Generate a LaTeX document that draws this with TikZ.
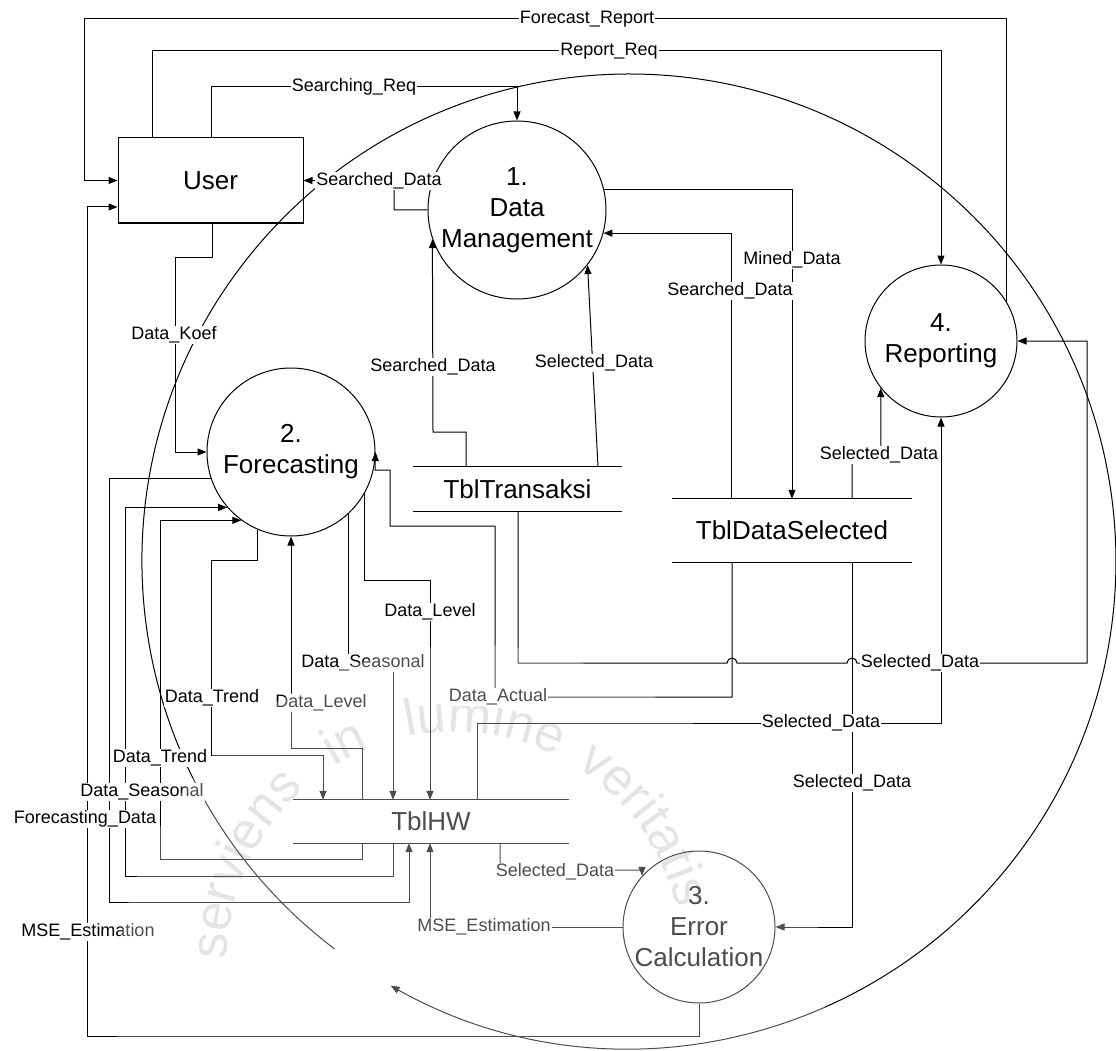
\documentclass[tikz,border=0pt]{standalone}
\usepackage{fontspec}
\setmainfont{Liberation Sans}
\usetikzlibrary{arrows.meta,decorations.text,calc}
\newcommand{\dfdbig}{\fontsize{26}{31}\selectfont}
\newcommand{\dfdsmall}{\fontsize{18}{21}\selectfont}
\newcommand{\dfdmark}{\fontsize{52}{60}\selectfont}
\begin{document}
\begin{tikzpicture}[x=1pt,y=-1pt,
  wire/.style={line width=1pt},
  flow/.style={wire,-{Triangle[length=9pt,width=7pt]}},
  proc/.style={circle,draw,line width=1pt,inner sep=0pt,align=center,font=\dfdbig},
  entity/.style={rectangle,draw,line width=1pt,inner sep=0pt,font=\dfdbig},
  store/.style={rectangle,inner sep=0pt,font=\dfdbig},
  lbl/.style={fill=white,inner sep=1pt,font=\dfdsmall},
  motto/.style={decorate,decoration={text along path,
    text={|\dfdmark\color{gray!30}|#1}}}]
\useasboundingbox (0,0) rectangle (1116,1051);

% faint emblem lettering in the background, one word per arc
\path[motto=serviens] ($(455,960)+(180:228)$) arc[start angle=180,end angle=234,radius=228];
\path[motto=in]       ($(455,960)+(238:228)$) arc[start angle=238,end angle=254,radius=228];
\path[motto=lumine]   ($(455,960)+(258:228)$) arc[start angle=258,end angle=302,radius=228];
\path[motto=veritatis]($(455,960)+(302:228)$) arc[start angle=302,end angle=352,radius=228];

% large ring with its arrow
\draw[wire,-{Triangle[length=9pt,width=7pt]}] (334.5,948.9)
  arc[start angle=127.2,end angle=479.3,radius=487];

% external entity, processes and data stores
\node[entity,minimum width=185pt,minimum height=85pt] (user) at (210.5,180.5) {User};
\node[proc,minimum size=178pt] (dm) at (517,210) {1.\\Data\\Management};
\node[proc,minimum size=168pt] (fc) at (291,452) {2.\\Forecasting};
\node[proc,minimum size=152pt] (rp) at (941,341) {4.\\Reporting};
\node[proc,minimum size=152pt] (ec) at (699,927) {3.\\Error\\Calculation};
\node[store,minimum width=209pt,minimum height=44pt] (tt) at (517.5,489) {TblTransaksi};
\node[store,minimum width=240pt,minimum height=63pt] (tds) at (792,530.5) {TblDataSelected};
\node[store,minimum width=276pt,minimum height=43pt] (thw) at (431,821.5) {TblHW};
\foreach \s in {tt,tds,thw}{
  \draw[wire] (\s.north west) -- (\s.north east);
  \draw[wire] (\s.south west) -- (\s.south east);
}

% data flows
\draw[flow] (rp.31) |- (84,19) |- (user.west);
\draw[flow] (152,0 |- user.north) -- (152,51) -| (rp.north);
\draw[flow] (211,0 |- user.north) -- (211,87) -| (dm.north);
\draw[flow] (dm.west) -| (394,181) -- (user.east);
\draw[flow] (212,0 |- user.south) |- (175,257) |- (fc.west);
\draw[flow] (ec.south) |- (87,1036) -- (87,207) -- (user.west |- 0,207);
\draw[flow] (466,0 |- tt.north) |- (433,432) -- (dm.199.3);
\draw[flow] (598,0 |- tt.north) -- (dm.322.9);
\draw[flow] (731,0 |- tds.north) |- (dm.345.7);
\draw[flow] (dm.13.6) -| (792,0 |- tds.north);
\draw[flow] (852,0 |- tds.north) |- (881,455) -- (rp.218.1);
\draw[flow] (518,0 |- tt.south) -- (518,663) -- (727,663)
  arc[start angle=180,end angle=360,radius=5] -- (847,663)
  arc[start angle=180,end angle=360,radius=5] -- (1087,663)
  -- (1087,0 |- rp.east) -- (rp.east);
\draw[flow] (732,0 |- tds.south) -- (732,697) -- (495,697) -- (495,526)
  -- (390,526) -- (390,470) -- (375,470) -- (fc.east);
\draw[flow] (477,0 |- thw.north) |- (941,723) -- (rp.south);
\draw[flow] (852,0 |- tds.south) |- (ec.east);
\draw[flow] (500,0 |- thw.south) |- (642,870) -- (ec.138.7);
\draw[flow] (ec.west) -| (430,0 |- thw.south);
\draw[flow] (fc.198) -| (109,902) -| (409,0 |- thw.south);
\draw[flow] (393,0 |- thw.south) |- (125,876) |- (fc.221.8);
\draw[flow] (362,0 |- thw.south) |- (160,859) |- (fc.234.1);
\draw[flow] (fc.247) |- (211,560) |- (323,755) -- (323,0 |- thw.north);
\draw[flow] (362,0 |- thw.north) |- (291,748) -- (fc.south);
\draw[flow] (fc.313.6) |- (393,663) -- (393,0 |- thw.north);
\draw[flow] (fc.331.7) |- (430,580) -- (430,0 |- thw.north);

% flow labels
\node[lbl] (l1) at (587,19) {Forecast\_Report};
\node[lbl] (l2) at (609,51) {Report\_Req};
\node[lbl] (l3) at (354,87) {Searching\_Req};
\node[lbl] (l4) at (379,181) {Searched\_Data};
\node[lbl] (l5) at (174,335) {Data\_Koef};
\node[lbl] (l6) at (433,367) {Searched\_Data};
\node[lbl] (l7) at (594,363) {Selected\_Data};
\node[lbl] (l8) at (792,260) {Mined\_Data};
\node[lbl] (l9) at (730,291) {Searched\_Data};
\node[lbl] (l10) at (879,455) {Selected\_Data};
\node[lbl] (l11) at (920,663) {Selected\_Data};
\node[lbl] (l12) at (821,723) {Selected\_Data};
\node[lbl] (l13) at (852,783) {Selected\_Data};
\node[lbl] (l14) at (498,697) {Data\_Actual};
\node[lbl] (l15) at (430,612) {Data\_Level};
\node[lbl] (l16) at (363,663) {Data\_Seasonal};
\node[lbl] (l17) at (321,703) {Data\_Level};
\node[lbl] (l18) at (212,698) {Data\_Trend};
\node[lbl] (l19) at (160,758) {Data\_Trend};
\node[lbl] (l20) at (142,792) {Data\_Seasonal};
\node[lbl] (l21) at (85,819) {Forecasting\_Data};
\node[lbl] (l22) at (88,932) {MSE\_Estimation};
\node[lbl] (l23) at (555,872) {Selected\_Data};
\node[lbl] (l24) at (484,927) {MSE\_Estimation};

% pale emblem veil over the lower middle
\fill[white,opacity=0.3] (470,1000) circle[radius=355];
\end{tikzpicture}
\end{document}
